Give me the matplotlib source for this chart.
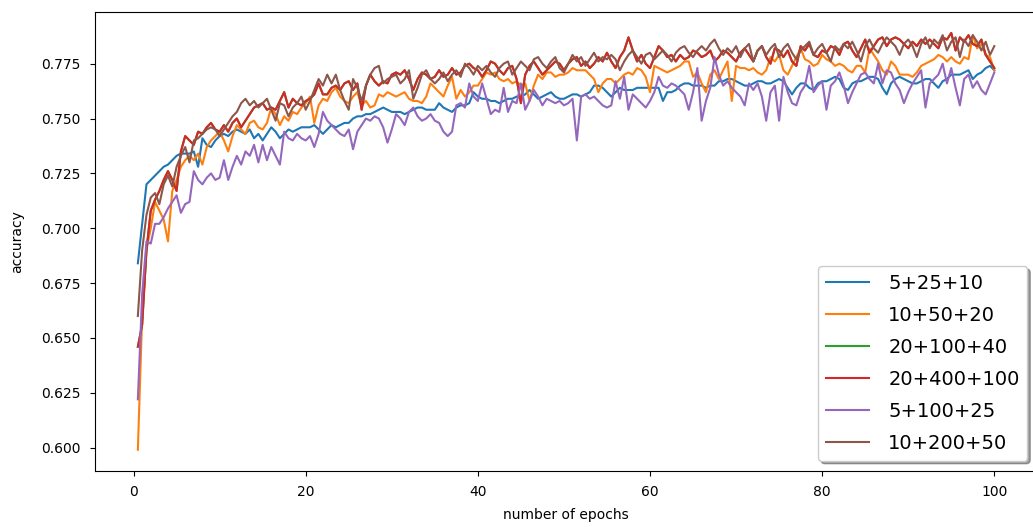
import numpy as np
import matplotlib
matplotlib.use("Agg")
import matplotlib.pyplot as plt

# epochs 0.5 .. 100 in steps of 0.5
epochs = np.arange(1, 201) * 0.5

labels = ["5+25+10", "10+50+20", "20+100+40", "20+400+100", "5+100+25", "10+200+50"]

acc_5_25_10 = [
    .684, .702, .720, .722, .724, .726, .728, .729, .731, .733,
    .734, .734, .734, .735, .728, .741, .738, .737, .740, .742,
    .743, .742, .744, .745, .744, .743, .745, .741, .743, .740,
    .743, .746, .744, .741, .743, .745, .744, .745, .746, .746,
    .746, .747, .745, .743, .745, .747, .746, .747, .748, .748,
    .750, .751, .751, .752, .752, .753, .754, .755, .754, .753,
    .753, .753, .752, .753, .754, .755, .755, .754, .754, .754,
    .757, .755, .754, .753, .755, .756, .756, .757, .762, .760,
    .759, .759, .758, .758, .757, .758, .759, .759, .760, .760,
    .761, .763, .761, .759, .760, .761, .762, .760, .759, .759,
    .760, .761, .761, .760, .761, .762, .765, .765, .764, .762,
    .760, .762, .764, .763, .763, .763, .764, .764, .764, .764,
    .764, .764, .758, .762, .762, .763, .765, .766, .766, .765,
    .765, .765, .764, .765, .765, .767, .767, .768, .768, .767,
    .766, .765, .765, .766, .767, .767, .766, .766, .767, .768,
    .767, .764, .761, .764, .766, .766, .764, .763, .766, .767,
    .767, .768, .769, .768, .764, .763, .766, .767, .767, .768,
    .769, .769, .768, .764, .761, .766, .768, .769, .768, .767,
    .766, .766, .767, .768, .768, .766, .764, .767, .768, .770,
    .770, .770, .771, .772, .768, .770, .771, .773, .774, .772,
]

acc_10_50_20 = [
    .599, .660, .690, .700, .712, .708, .704, .694, .717, .722,
    .728, .731, .733, .731, .734, .729, .737, .740, .742, .744,
    .740, .735, .742, .747, .745, .743, .748, .749, .746, .745,
    .748, .755, .752, .747, .751, .749, .753, .752, .755, .757,
    .760, .748, .756, .759, .758, .762, .764, .760, .758, .757,
    .760, .762, .756, .758, .755, .756, .761, .760, .762, .761,
    .760, .761, .762, .759, .758, .758, .757, .760, .766, .764,
    .762, .760, .765, .769, .759, .763, .760, .762, .765, .765,
    .768, .771, .770, .771, .768, .767, .768, .766, .767, .765,
    .766, .758, .765, .770, .768, .771, .771, .769, .770, .770,
    .771, .773, .772, .772, .772, .770, .768, .762, .766, .768,
    .768, .766, .768, .770, .771, .770, .773, .772, .769, .762,
    .774, .773, .772, .771, .772, .773, .774, .776, .776, .769,
    .771, .766, .762, .770, .772, .768, .772, .776, .758, .774,
    .773, .773, .772, .773, .771, .770, .772, .778, .776, .779,
    .772, .770, .774, .778, .782, .777, .776, .774, .775, .779,
    .777, .776, .774, .775, .774, .772, .771, .774, .774, .771,
    .782, .779, .776, .772, .770, .776, .774, .770, .770, .770,
    .769, .771, .774, .775, .776, .777, .779, .778, .776, .778,
    .776, .775, .778, .777, .788, .782, .784, .779, .778, .772,
]

acc_20_400_100 = [
    .646, .656, .690, .708, .713, .717, .722, .726, .722, .717,
    .735, .742, .740, .738, .744, .743, .746, .748, .745, .744,
    .747, .744, .748, .750, .746, .749, .752, .755, .756, .757,
    .754, .755, .754, .758, .762, .755, .759, .757, .756, .758,
    .759, .761, .766, .761, .761, .764, .765, .763, .766, .767,
    .763, .766, .754, .765, .770, .767, .765, .767, .766, .770,
    .771, .770, .772, .768, .763, .768, .771, .770, .768, .769,
    .772, .769, .770, .773, .770, .771, .774, .775, .773, .772,
    .769, .772, .776, .775, .772, .770, .773, .774, .768, .757,
    .770, .774, .776, .773, .770, .772, .774, .776, .775, .772,
    .775, .777, .778, .774, .776, .773, .775, .778, .776, .780,
    .776, .773, .778, .781, .787, .781, .776, .779, .775, .773,
    .778, .783, .781, .778, .779, .776, .779, .777, .778, .781,
    .780, .778, .779, .781, .776, .778, .781, .780, .778, .776,
    .780, .782, .779, .776, .781, .783, .778, .775, .782, .781,
    .778, .781, .776, .774, .783, .781, .784, .779, .778, .781,
    .780, .783, .782, .779, .784, .785, .781, .778, .782, .786,
    .780, .783, .786, .787, .783, .786, .787, .786, .784, .782,
    .785, .783, .786, .784, .786, .784, .782, .787, .786, .789,
    .781, .787, .785, .788, .784, .783, .786, .779, .776, .773,
]

# green run lies exactly under the red one in the picture
acc_20_100_40 = list(acc_20_400_100)

acc_5_100_25 = [
    .622, .670, .694, .693, .702, .702, .705, .709, .712, .715,
    .707, .711, .712, .726, .722, .720, .723, .725, .722, .723,
    .731, .722, .728, .733, .729, .735, .733, .738, .730, .738,
    .731, .737, .733, .729, .744, .741, .740, .743, .741, .740,
    .742, .737, .743, .753, .749, .747, .745, .743, .742, .745,
    .736, .744, .747, .750, .749, .751, .750, .746, .739, .745,
    .752, .750, .747, .753, .755, .751, .749, .750, .752, .749,
    .748, .744, .742, .744, .756, .757, .755, .766, .760, .758,
    .766, .759, .752, .754, .753, .764, .753, .758, .757, .766,
    .754, .758, .763, .760, .756, .759, .758, .757, .758, .756,
    .757, .759, .740, .760, .761, .759, .760, .758, .756, .755,
    .756, .767, .759, .769, .754, .761, .759, .757, .755, .758,
    .762, .769, .765, .764, .766, .765, .763, .761, .754, .762,
    .773, .749, .758, .764, .778, .770, .765, .767, .764, .762,
    .760, .756, .766, .763, .766, .760, .749, .762, .765, .749,
    .769, .762, .757, .756, .762, .765, .774, .762, .765, .767,
    .754, .765, .767, .771, .765, .757, .762, .766, .770, .771,
    .768, .766, .775, .766, .772, .771, .766, .763, .757, .762,
    .766, .769, .772, .755, .766, .768, .770, .775, .766, .773,
    .764, .756, .768, .770, .764, .767, .763, .761, .766, .771,
]

acc_10_200_50 = [
    .660, .690, .706, .714, .716, .711, .720, .724, .719, .728,
    .733, .737, .730, .740, .741, .743, .745, .746, .745, .742,
    .745, .748, .751, .753, .757, .759, .756, .758, .755, .757,
    .759, .754, .749, .757, .756, .751, .755, .757, .760, .754,
    .758, .763, .768, .765, .770, .766, .770, .763, .758, .754,
    .768, .764, .758, .765, .770, .773, .774, .766, .768, .769,
    .770, .766, .768, .772, .759, .764, .770, .772, .768, .766,
    .768, .771, .767, .770, .772, .769, .775, .773, .770, .774,
    .772, .774, .771, .769, .773, .775, .776, .770, .773, .776,
    .774, .772, .777, .778, .775, .773, .776, .778, .773, .771,
    .775, .779, .776, .778, .774, .777, .780, .776, .778, .777,
    .779, .777, .772, .776, .779, .781, .778, .775, .779, .780,
    .777, .779, .781, .779, .776, .780, .782, .783, .780, .778,
    .781, .783, .781, .784, .786, .782, .779, .782, .780, .783,
    .778, .782, .784, .776, .781, .783, .779, .782, .784, .778,
    .782, .784, .780, .777, .781, .783, .785, .779, .782, .784,
    .780, .776, .783, .781, .784, .782, .785, .781, .776, .783,
    .786, .782, .780, .784, .787, .785, .783, .779, .784, .786,
    .783, .778, .784, .787, .782, .786, .784, .788, .781, .785,
    .787, .778, .786, .783, .788, .785, .781, .785, .779, .783,
]

series = [acc_5_25_10, acc_10_50_20, acc_20_100_40,
          acc_20_400_100, acc_5_100_25, acc_10_200_50]

fig = plt.figure(figsize=(10.33, 5.27), dpi=100)
ax = fig.add_axes([0.092, 0.107, 0.912, 0.870])

for vals, lab in zip(series, labels):
    ax.plot(epochs, vals, label=lab)

ax.set_xlabel("number of epochs", labelpad=6)
ax.set_ylabel("accuracy", labelpad=12)
ax.set_xticks([0, 20, 40, 60, 80, 100])
ax.set_yticks([0.600, 0.625, 0.650, 0.675, 0.700, 0.725, 0.750, 0.775])
ax.tick_params(axis="both", pad=7)
ax.legend(loc="lower right", fontsize=14, shadow=True,
          labelspacing=0.67, handlelength=2.2, handletextpad=1.0)

fig.savefig("out.png", dpi=100)
